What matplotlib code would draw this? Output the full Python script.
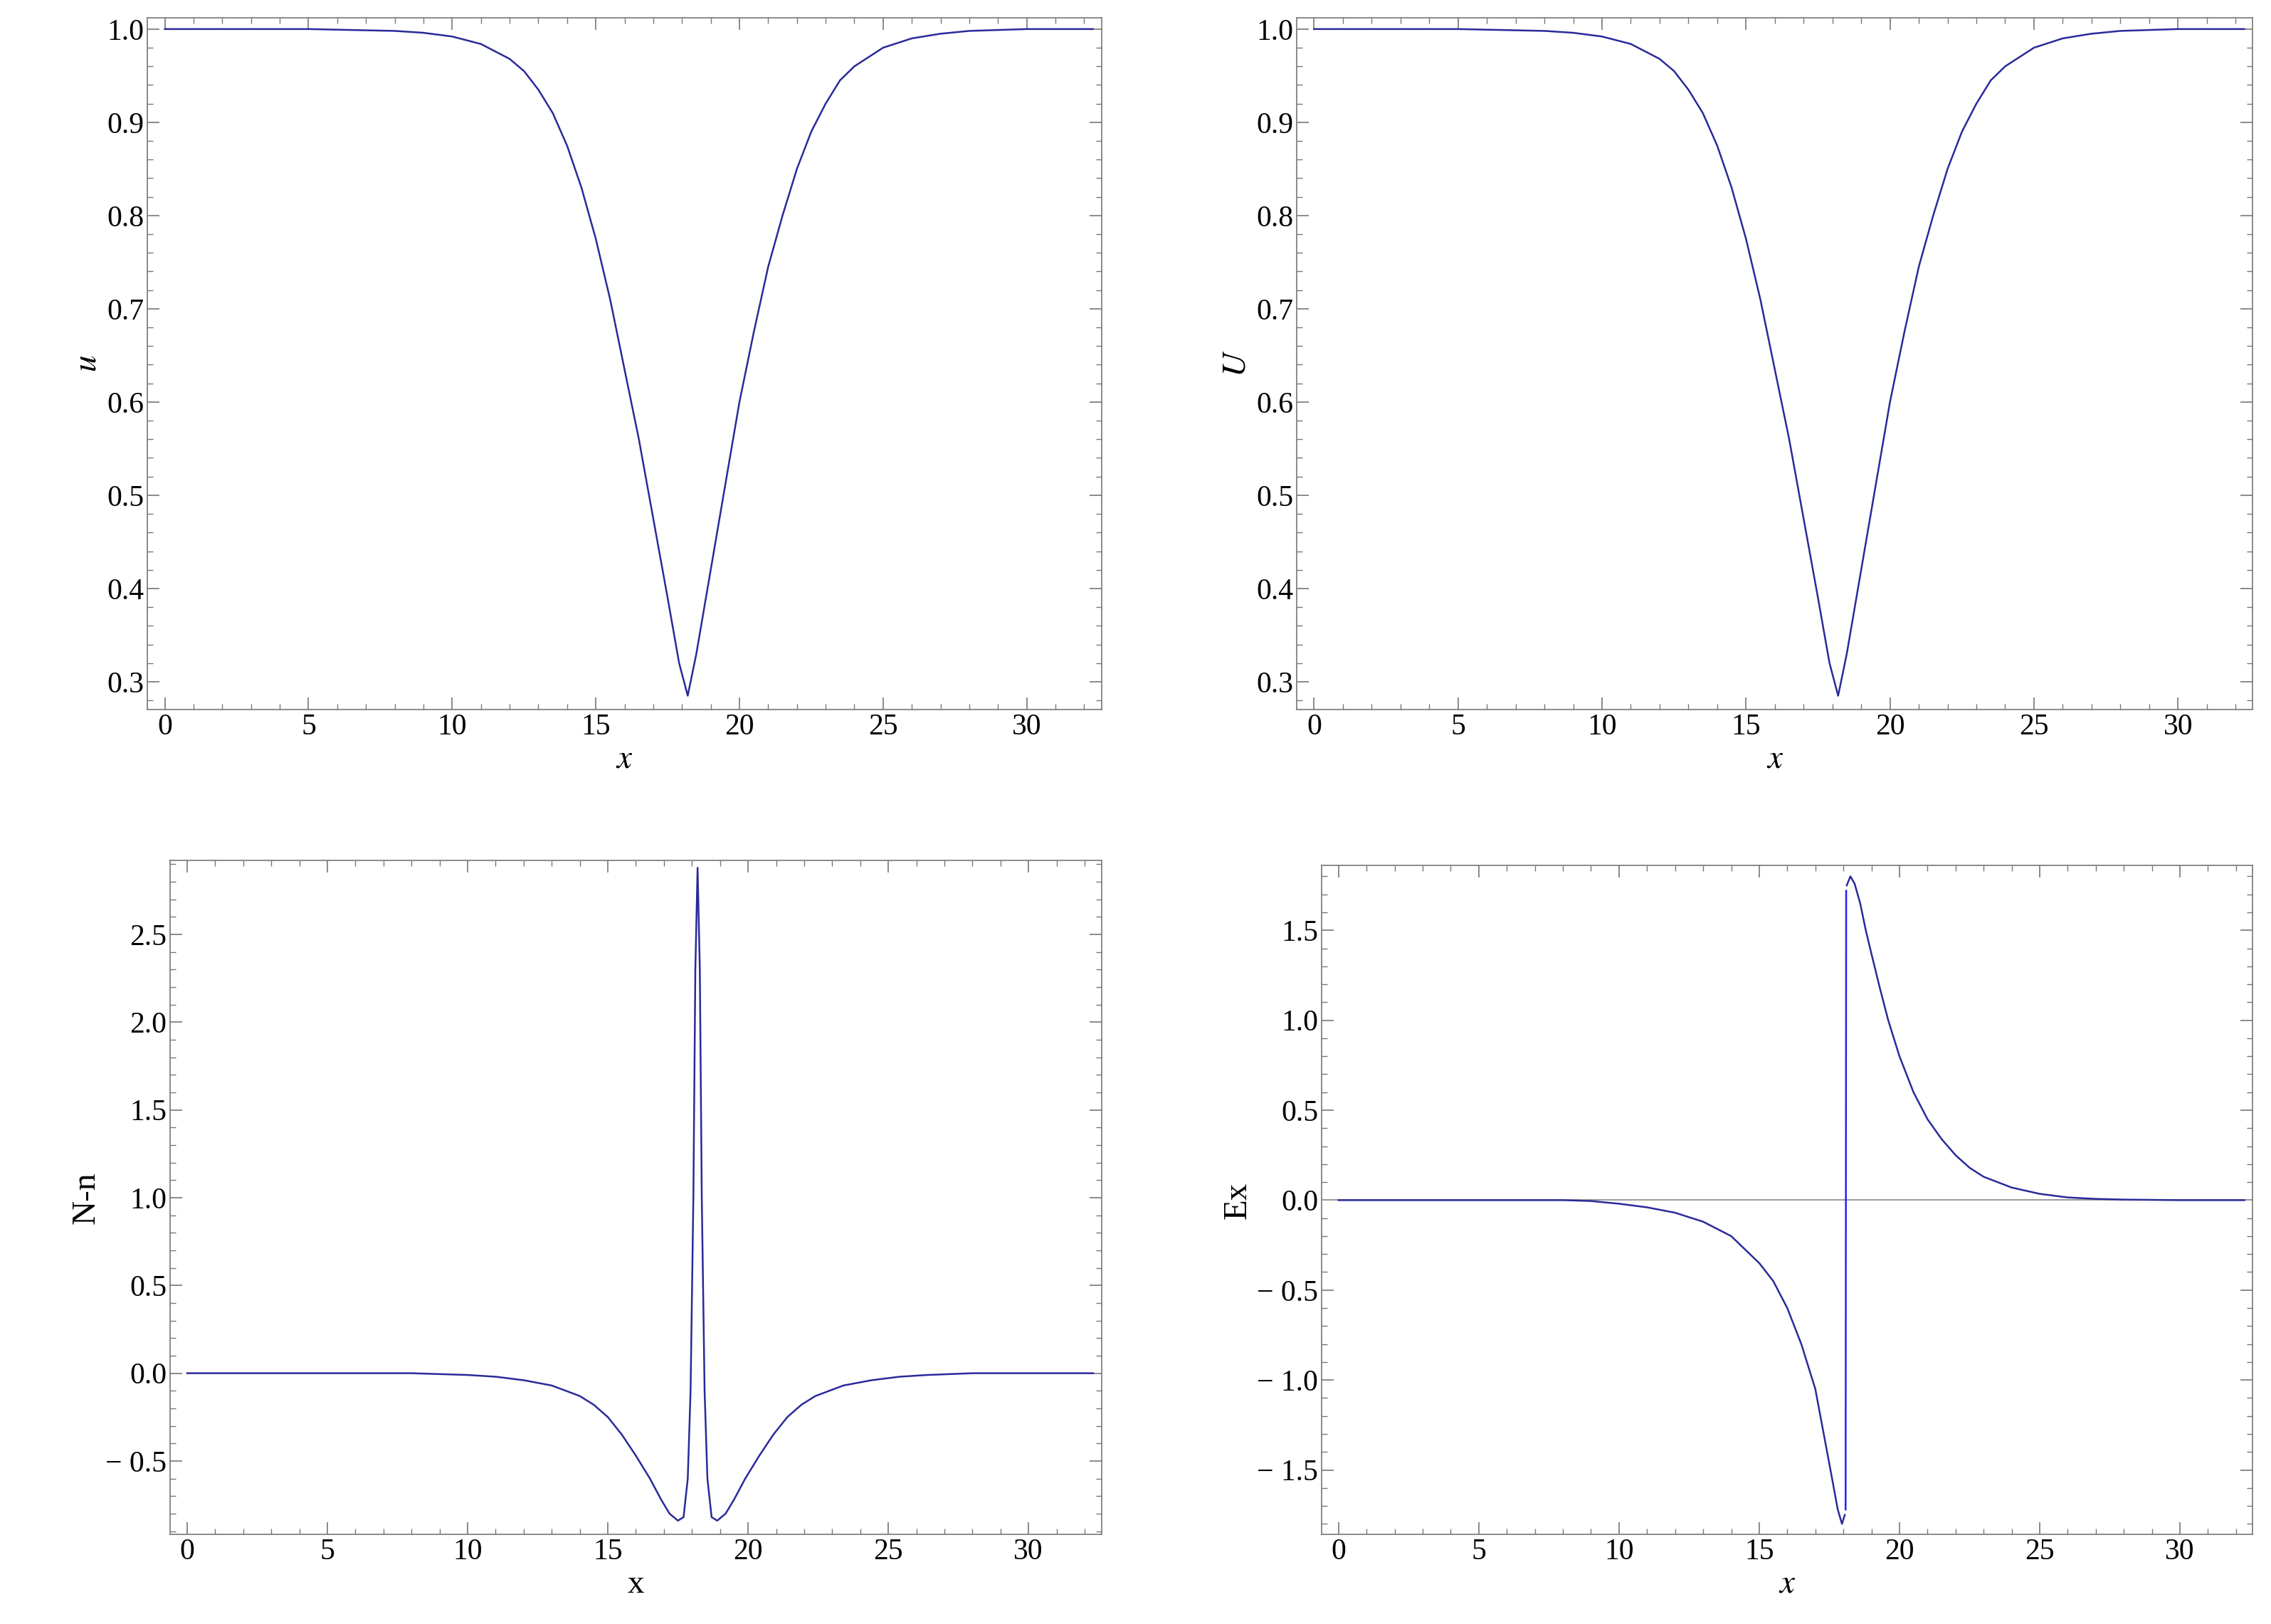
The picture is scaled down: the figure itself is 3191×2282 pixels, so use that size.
import matplotlib.pyplot as plt
from matplotlib.ticker import MultipleLocator

plt.rcParams['font.family'] = ['Liberation Serif', 'DejaVu Serif']
plt.rcParams['mathtext.fontset'] = 'stix'

# u(x) and U(x): both dip to ~0.285 at x ~ 18.2
u_x = [0, 5, 8, 9, 10, 11, 12, 12.5, 13, 13.5, 14, 14.5, 15, 15.5, 16, 16.5, 17, 17.5, 17.9, 18.2,
       18.5, 19, 19.5, 20, 20.5, 21, 21.5, 22, 22.5, 23, 23.5, 24, 25, 26, 27, 28, 30, 32.3]
u_y = [1, 1, 0.998, 0.996, 0.992, 0.984, 0.968, 0.955, 0.935, 0.91, 0.875, 0.83, 0.775, 0.71, 0.635,
       0.56, 0.475, 0.39, 0.32, 0.285, 0.33, 0.42, 0.51, 0.60, 0.675, 0.745, 0.80, 0.85, 0.89, 0.92,
       0.945, 0.96, 0.98, 0.99, 0.995, 0.998, 1, 1]
U_x = u_x
U_y = u_y

# N-n
nn_x = [0, 8, 10, 11, 12, 13, 14, 14.5, 15, 15.5, 16, 16.5, 16.9, 17.2, 17.5, 17.7, 17.85, 17.95,
        18.05, 18.12, 18.2, 18.28, 18.35, 18.45, 18.55, 18.7, 18.9, 19.2, 19.5, 19.9, 20.4, 20.9,
        21.4, 21.9, 22.4, 23.4, 24.4, 25.4, 26.4, 28, 32.3]
nn_y = [0, 0, -0.01, -0.02, -0.04, -0.07, -0.13, -0.18, -0.25, -0.35, -0.47, -0.6, -0.72, -0.8,
        -0.84, -0.82, -0.6, -0.1, 1.0, 2.3, 2.88, 2.3, 1.0, -0.1, -0.6, -0.82, -0.84, -0.8, -0.72,
        -0.6, -0.47, -0.35, -0.25, -0.18, -0.13, -0.07, -0.04, -0.02, -0.01, 0, 0]

# Ex (left branch, right branch, jump)
exl_x = [0, 8, 9, 10, 11, 12, 13, 14, 15, 15.5, 16, 16.5, 17, 17.3, 17.6, 17.8, 17.95, 18.05]
exl_y = [0, 0, -0.005, -0.02, -0.04, -0.07, -0.12, -0.2, -0.35, -0.45, -0.6, -0.8, -1.05, -1.3,
         -1.55, -1.72, -1.8, -1.75]
exr_x = [18.12, 18.25, 18.4, 18.6, 18.8, 19, 19.3, 19.6, 20, 20.5, 21, 21.5, 22, 22.5, 23, 24, 25,
         26, 27, 28, 30, 32.3]
exr_y = [1.75, 1.8, 1.76, 1.65, 1.5, 1.37, 1.18, 1.0, 0.8, 0.6, 0.45, 0.34, 0.25, 0.18, 0.13, 0.07,
         0.035, 0.015, 0.007, 0.003, 0, 0]
jump_x = [18.08, 18.1]
jump_y = [-1.72, 1.72]

line_c = '#2a2a9a'
fs = 30

fig = plt.figure(figsize=(31.91, 22.82), dpi=100)


def style(ax, xlab, ylab, ylim, major, minor):
    ax.set_xlim(-0.6, 32.6)
    ax.set_ylim(*ylim)
    ax.xaxis.set_major_locator(MultipleLocator(5))
    ax.xaxis.set_minor_locator(MultipleLocator(1))
    ax.yaxis.set_major_locator(MultipleLocator(major))
    ax.yaxis.set_minor_locator(MultipleLocator(minor))
    ax.tick_params(which='both', direction='in', top=True, right=True, labelsize=fs, color='#777777')
    ax.tick_params(which='major', length=12, width=1.2)
    ax.tick_params(which='minor', length=6, width=1)
    for s in ax.spines.values():
        s.set_color('#777777')
        s.set_linewidth(1.2)
    ax.set_xlabel(xlab, fontsize=fs + 4)
    ax.set_ylabel(ylab, fontsize=fs + 4)
    ax.yaxis.set_major_formatter(plt.FuncFormatter(lambda v, p: f'{v:.1f}'.replace('-', '\u2212 ')))


ax1 = fig.add_axes([0.065, 0.563, 0.42, 0.426])
ax1.plot(u_x, u_y, color=line_c, lw=1.8)
style(ax1, '$x$', '$u$', (0.27, 1.012), 0.1, 0.02)

ax2 = fig.add_axes([0.571, 0.563, 0.421, 0.426])
ax2.plot(U_x, U_y, color=line_c, lw=1.8)
style(ax2, '$x$', '$U$', (0.27, 1.012), 0.1, 0.02)

ax3 = fig.add_axes([0.075, 0.055, 0.41, 0.415])
ax3.plot(nn_x, nn_y, color=line_c, lw=1.8)
style(ax3, 'x', 'N-n', (-0.92, 2.92), 0.5, 0.1)

ax4 = fig.add_axes([0.582, 0.055, 0.41, 0.412])
ax4.axhline(0, color='#999999', lw=1.4)
ax4.plot(exl_x, exl_y, color=line_c, lw=1.8)
ax4.plot(exr_x, exr_y, color=line_c, lw=1.8)
ax4.plot(jump_x, jump_y, color='#2020ff', lw=1.8)
style(ax4, '$x$', 'Ex', (-1.86, 1.86), 0.5, 0.1)

fig.savefig('out.png', dpi=100)
